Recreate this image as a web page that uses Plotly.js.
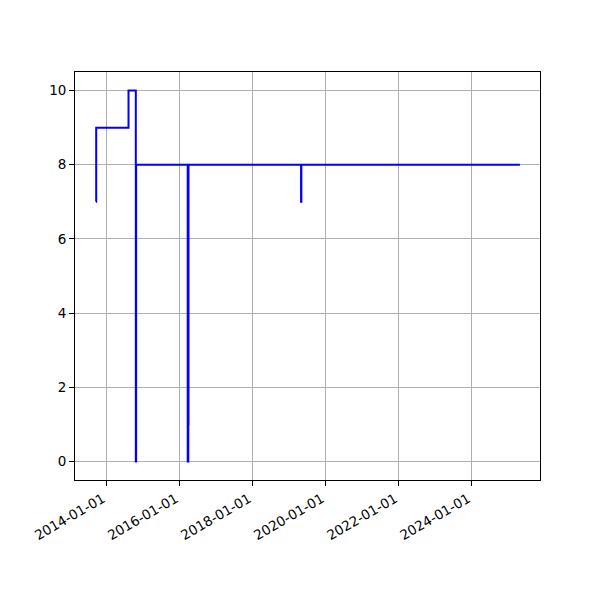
<!DOCTYPE html>
<html>
<head>
<meta charset="utf-8">
<script src="https://cdn.plot.ly/plotly-3.0.1.min.js"></script>
<style>html,body{margin:0;padding:0;background:#fff}</style>
</head>
<body>
<div id="chart" style="width:600px;height:600px"></div>
<script>
// Change points of the step series (date, value held until next date)
const dates = [
  '2013-09-16', '2013-09-18', '2014-08-07', '2014-10-19', '2014-10-22',
  '2016-03-21', '2016-03-27', '2016-03-29', '2019-04-28', '2019-05-01',
  '2025-04-24'
];
const values = [7, 9, 10, 0, 8, 0, 1, 8, 7, 8, 8];

const xTickVals = ['2014-01-01', '2016-01-01', '2018-01-01', '2020-01-01', '2022-01-01', '2024-01-01'];
const yTickVals = [0, 2, 4, 6, 8, 10];

const trace = {
  x: dates,
  y: values,
  type: 'scatter',
  mode: 'lines',
  line: {color: '#0000ff', width: 2, shape: 'hv'},
  hoverinfo: 'x+y'
};

const axisCommon = {
  showline: true,
  linecolor: '#000',
  linewidth: 1,
  mirror: true,
  ticks: 'outside',
  ticklen: 4.9,
  tickwidth: 1,
  tickcolor: '#000',
  showgrid: true,
  gridcolor: '#b0b0b0',
  gridwidth: 1,
  zeroline: false,
  tickfont: {family: 'DejaVu Sans', size: 13.5, color: '#000'}
};

const layout = {
  width: 600,
  height: 600,
  margin: {l: 75, r: 60, t: 72, b: 120},
  paper_bgcolor: '#fff',
  plot_bgcolor: '#fff',
  showlegend: false,
  xaxis: Object.assign({}, axisCommon, {
    type: 'date',
    range: ['2013-02-18', '2025-11-11'],
    tickmode: 'array',
    tickvals: xTickVals,
    ticktext: xTickVals,
    tickangle: -30,
    ticklabelshift: -4
  }),
  yaxis: Object.assign({}, axisCommon, {
    range: [-0.5, 10.5],
    tickmode: 'array',
    tickvals: yTickVals,
    ticktext: yTickVals.map(String)
  })
};

Plotly.newPlot('chart', [trace], layout, {displayModeBar: false, staticPlot: true});
</script>
</body>
</html>
